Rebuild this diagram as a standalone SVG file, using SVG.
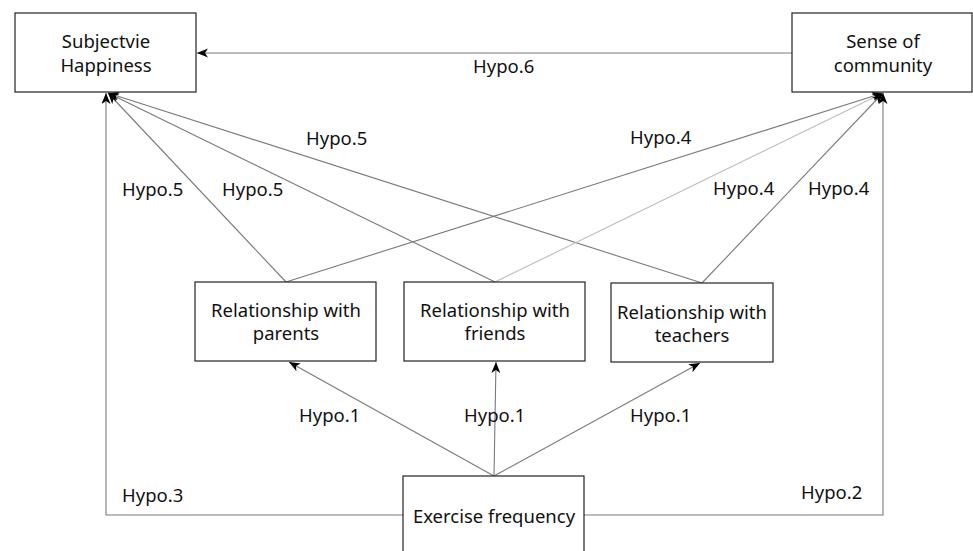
<svg xmlns="http://www.w3.org/2000/svg" width="973" height="551" viewBox="0 0 973 551">
<style>
.box{fill:#fff;stroke:#222;stroke-width:1.2}
.t{font-family:"Noto Sans","Open Sans",sans-serif;font-size:18.5px;fill:#111;text-anchor:middle}
.l{font-family:"Noto Sans","Open Sans",sans-serif;font-size:18.5px;fill:#111}
.c{stroke:#7a7a7a;stroke-width:1.1;fill:none;marker-end:url(#ah)}
.c2{stroke:#bdbdbd;stroke-width:1.1;fill:none;marker-end:url(#ah)}
.p{stroke:#7a7a7a;stroke-width:1.1;fill:none}
</style>
<defs>
<marker id="ah" markerUnits="userSpaceOnUse" markerWidth="12" markerHeight="10" refX="11" refY="4.5" orient="auto">
<path d="M0,0 L11,4.5 L0,9 L3,4.5 z" fill="#000"/>
</marker>
</defs>
<rect width="973" height="551" fill="#fff"/>
<g id="connectors">
<line class="c" x1="792" y1="53" x2="197" y2="53"/>
<line class="c" x1="286" y1="282" x2="108" y2="93"/>
<line class="c" x1="495" y1="282" x2="108" y2="93"/>
<line class="c" x1="702" y1="283" x2="108" y2="93"/>
<polyline class="c" points="403,515 106,515 106,93"/>
<line class="c" x1="286" y1="282" x2="883" y2="93"/>
<line class="c2" x1="495" y1="282" x2="883" y2="93"/>
<line class="c" x1="702" y1="283" x2="883" y2="93"/>
<polyline class="c" points="584,515 883,515 883,93"/>
<line class="c" x1="494" y1="476" x2="289" y2="362"/>
<line class="c" x1="494" y1="476" x2="496" y2="362"/>
<line class="c" x1="494" y1="476" x2="700" y2="363"/>
<text class="l" x="473" y="73">Hypo.6</text>
<text class="l" x="122" y="196">Hypo.5</text>
<text class="l" x="222" y="196">Hypo.5</text>
<text class="l" x="306" y="145">Hypo.5</text>
<text class="l" x="630" y="144">Hypo.4</text>
<text class="l" x="713" y="195">Hypo.4</text>
<text class="l" x="808" y="195">Hypo.4</text>
<text class="l" x="299" y="422">Hypo.1</text>
<text class="l" x="464" y="422">Hypo.1</text>
<text class="l" x="630" y="422">Hypo.1</text>
<text class="l" x="122" y="502">Hypo.3</text>
<text class="l" x="801" y="499">Hypo.2</text>
</g>
<g id="subjective-happiness">
<rect class="box" x="15" y="13" width="181" height="79"/>
<text class="t" x="106" y="48">Subjectvie</text>
<text class="t" x="106" y="72">Happiness</text>
</g>
<g id="sense-of-community">
<rect class="box" x="792" y="13" width="180" height="79"/>
<text class="t" x="883" y="48">Sense of</text>
<text class="t" x="883" y="72">community</text>
</g>
<g id="rel-parents">
<rect class="box" x="195" y="282" width="181" height="79"/>
<text class="t" x="286" y="317">Relationship with</text>
<text class="t" x="286" y="340">parents</text>
</g>
<g id="rel-friends">
<rect class="box" x="404" y="282" width="181" height="79"/>
<text class="t" x="495" y="317">Relationship with</text>
<text class="t" x="495" y="340">friends</text>
</g>
<g id="rel-teachers">
<rect class="box" x="611" y="283" width="162" height="79"/>
<text class="t" x="692" y="319">Relationship with</text>
<text class="t" x="692" y="342">teachers</text>
</g>
<g id="exercise-frequency">
<rect class="box" x="403" y="476" width="181" height="90"/>
<text class="t" x="494" y="523">Exercise frequency</text>
</g>
</svg>
